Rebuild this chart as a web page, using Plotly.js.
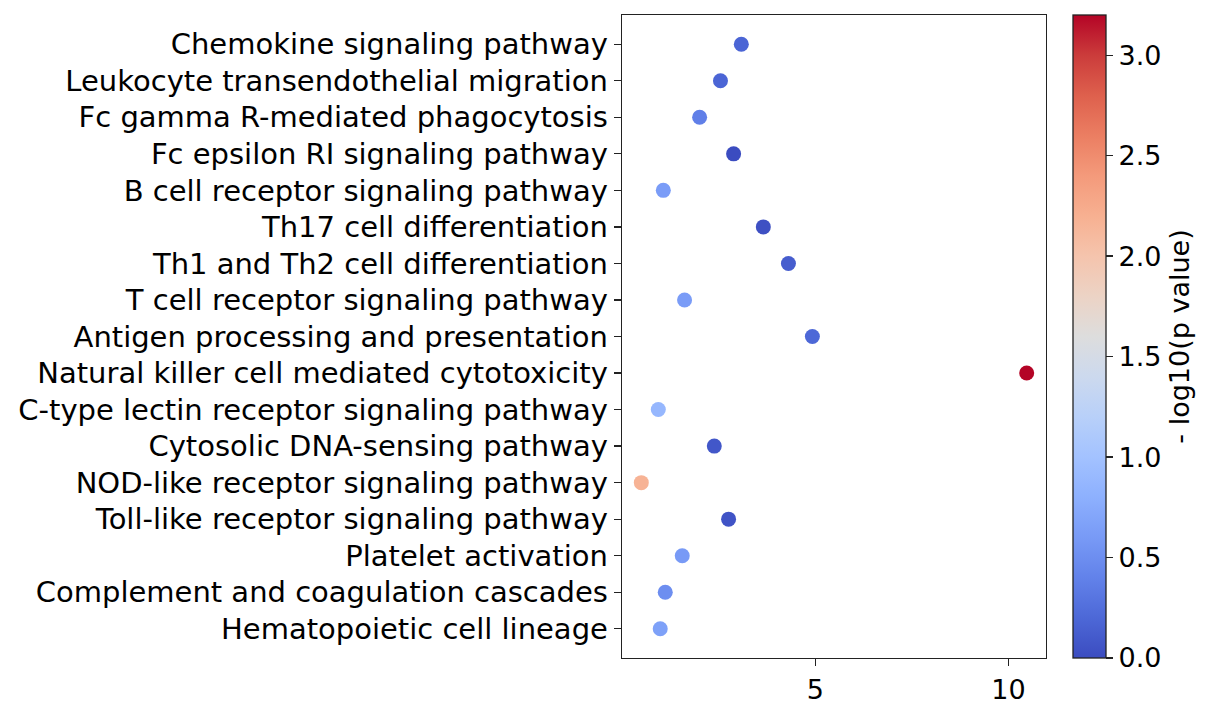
<!DOCTYPE html>
<html>
<head>
<meta charset="utf-8">
<script src="https://cdn.plot.ly/plotly-3.0.1.min.js"></script>
<style>html,body{margin:0;padding:0;background:#fff;}#chart{width:1216px;height:716px;}</style>
</head>
<body>
<div id="chart"></div>
<script>
const pathways = [
  "Chemokine signaling pathway",
  "Leukocyte transendothelial migration",
  "Fc gamma R-mediated phagocytosis",
  "Fc epsilon RI signaling pathway",
  "B cell receptor signaling pathway",
  "Th17 cell differentiation",
  "Th1 and Th2 cell differentiation",
  "T cell receptor signaling pathway",
  "Antigen processing and presentation",
  "Natural killer cell mediated cytotoxicity",
  "C-type lectin receptor signaling pathway",
  "Cytosolic DNA-sensing pathway",
  "NOD-like receptor signaling pathway",
  "Toll-like receptor signaling pathway",
  "Platelet activation",
  "Complement and coagulation cascades",
  "Hematopoietic cell lineage"
];
const enrichment = [3.08, 2.54, 2.00, 2.88, 1.06, 3.65, 4.30, 1.61, 4.92, 10.47, 0.93, 2.38, 0.49, 2.75, 1.55, 1.11, 0.98];
const negLogP = [0.18, 0.18, 0.38, 0.0, 0.62, 0.03, 0.12, 0.62, 0.20, 3.2, 0.88, 0.08, 2.17, 0.05, 0.60, 0.50, 0.66];
const cbTicks = [0, 0.5, 1.0, 1.5, 2.0, 2.5, 3.0];
const xTicks = [5, 10];

const coolwarm = [
  [0.0, 'rgb(59,76,192)'],
  [0.0625, 'rgb(77,104,215)'],
  [0.125, 'rgb(98,130,234)'],
  [0.1875, 'rgb(120,154,246)'],
  [0.25, 'rgb(141,176,254)'],
  [0.3125, 'rgb(163,194,255)'],
  [0.375, 'rgb(184,208,249)'],
  [0.4375, 'rgb(204,217,238)'],
  [0.5, 'rgb(221,221,221)'],
  [0.5625, 'rgb(236,211,197)'],
  [0.625, 'rgb(245,196,173)'],
  [0.6875, 'rgb(247,176,145)'],
  [0.75, 'rgb(244,154,123)'],
  [0.8125, 'rgb(235,126,98)'],
  [0.875, 'rgb(222,96,77)'],
  [0.9375, 'rgb(203,60,59)'],
  [1.0, 'rgb(180,4,38)']
];

const font = {family: 'DejaVu Sans', size: 27, color: '#000'};
const yfont = {family: 'DejaVu Sans', size: 29, color: '#000'};

const trace = {
  type: 'scatter',
  mode: 'markers',
  x: enrichment,
  y: pathways,
  marker: {
    size: 15,
    color: negLogP,
    colorscale: coolwarm,
    cmin: 0,
    cmax: 3.2,
    line: {width: 0},
    showscale: true,
    colorbar: {
      x: 1.064, xanchor: 'left',
      y: 0.5, yanchor: 'middle',
      len: 1, lenmode: 'fraction',
      thickness: 33,
      xpad: 0, ypad: 0,
      outlinewidth: 1.3, outlinecolor: '#222',
      tickvals: cbTicks,
      tickformat: '.1f',
      ticks: 'outside', ticklen: 7, tickwidth: 1.3, tickcolor: '#222',
      tickfont: font,
      title: {text: '- log10(p value)', side: 'right', font: font}
    }
  },
  hoverinfo: 'x+y'
};

const layout = {
  width: 1216, height: 716,
  margin: {l: 622, r: 170, t: 15, b: 58},
  paper_bgcolor: '#fff', plot_bgcolor: '#fff',
  font: font,
  showlegend: false,
  xaxis: {
    range: [-0.01, 10.97],
    tickvals: xTicks,
    ticks: 'outside', ticklen: 7, tickwidth: 1.3, tickcolor: '#222',
    showgrid: false, zeroline: false,
    showline: true, linecolor: '#222', linewidth: 1.3, mirror: true,
    tickfont: font
  },
  yaxis: {
    type: 'category',
    categoryorder: 'array', categoryarray: pathways,
    range: [16.8, -0.8],
    ticks: 'outside', ticklen: 7, tickwidth: 1.3, tickcolor: '#222',
    showgrid: false, zeroline: false,
    showline: true, linecolor: '#222', linewidth: 1.3, mirror: true,
    tickfont: yfont
  }
};

Plotly.newPlot('chart', [trace], layout, {displayModeBar: false, staticPlot: true});
</script>
</body>
</html>
